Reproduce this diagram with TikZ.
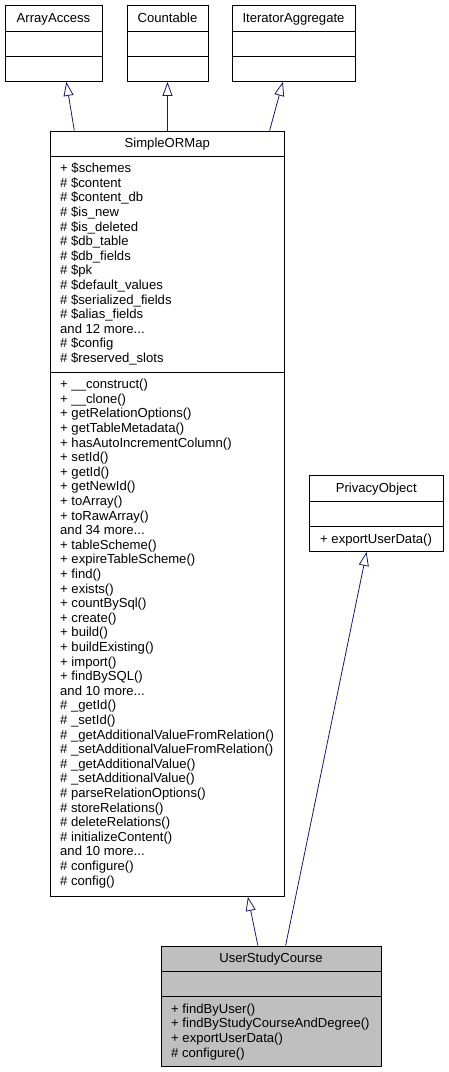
\documentclass[tikz,border=0pt]{standalone}
\usepackage{fontspec}
\setmainfont{Liberation Sans}
\usetikzlibrary{arrows.meta,calc}

\definecolor{edgeblue}{RGB}{25,25,112}
\definecolor{classgray}{RGB}{191,191,191}

\tikzset{
  classbox/.style={draw=black, line width=0.8pt, fill=white, inner sep=0pt},
  sepline/.style={draw=black, line width=0.8pt},
  member/.style={anchor=west, inner sep=0pt, text height=9.4pt, text depth=0pt, font=\fontsize{13.1}{14.6}\selectfont},
  classname/.style={member, anchor=center},
  inherit/.style={draw=edgeblue, line width=0.8pt, -{Triangle[open,length=14pt,width=10pt]}},
}

\begin{document}
\begin{tikzpicture}[x=1pt,y=-1pt]
\useasboundingbox (0,0) rectangle (449,1072);

% interfaces on top
\node[classbox, minimum width=97pt, minimum height=76pt] (arrayaccess) at (53.5,43.5) {};
\node[classbox, minimum width=81pt, minimum height=76pt] (countable) at (167.5,43.5) {};
\node[classbox, minimum width=123pt, minimum height=76pt] (iteratoraggregate) at (293.5,43.5) {};
\draw[sepline] (5,31.5) -- (102,31.5);
\draw[sepline] (5,56.5) -- (102,56.5);
\draw[sepline] (127,31.5) -- (208,31.5);
\draw[sepline] (127,56.5) -- (208,56.5);
\draw[sepline] (232,31.5) -- (355,31.5);
\draw[sepline] (232,56.5) -- (355,56.5);
\node[classname] (arrayaccessname) at (53.5,18) {ArrayAccess};
\node[classname] (countablename) at (167.5,18) {Countable};
\node[classname] (iteratoraggregatename) at (293.5,18) {IteratorAggregate};

% SimpleORMap
\node[classbox, minimum width=234.5pt, minimum height=765.5pt] (simpleormap) at (167.25,513.75) {};
\draw[sepline] (50,156) -- (284.5,156);
\draw[sepline] (50,372) -- (284.5,372);
\node[classname] (simpleormapname) at (167.25,143) {SimpleORMap};

\node[member] (attr1) at (60,168) {+ \$schemes};
\node[member] (attr2) at (60,182.6) {\# \$content};
\node[member] (attr3) at (60,197.2) {\# \$content\_db};
\node[member] (attr4) at (60,211.8) {\# \$is\_new};
\node[member] (attr5) at (60,226.4) {\# \$is\_deleted};
\node[member] (attr6) at (60,241) {\# \$db\_table};
\node[member] (attr7) at (60,255.6) {\# \$db\_fields};
\node[member] (attr8) at (60,270.2) {\# \$pk};
\node[member] (attr9) at (60,284.8) {\# \$default\_values};
\node[member] (attr10) at (60,299.4) {\# \$serialized\_fields};
\node[member] (attr11) at (60,314) {\# \$alias\_fields};
\node[member] (attr12) at (60,328.6) {and 12 more...};
\node[member] (attr13) at (60,343.2) {\# \$config};
\node[member] (attr14) at (60,357.8) {\# \$reserved\_slots};

\node[member] (op1) at (60,384) {+ \_\_construct()};
\node[member] (op2) at (60,398.6) {+ \_\_clone()};
\node[member] (op3) at (60,413.2) {+ getRelationOptions()};
\node[member] (op4) at (60,427.8) {+ getTableMetadata()};
\node[member] (op5) at (60,442.4) {+ hasAutoIncrementColumn()};
\node[member] (op6) at (60,457) {+ setId()};
\node[member] (op7) at (60,471.6) {+ getId()};
\node[member] (op8) at (60,486.2) {+ getNewId()};
\node[member] (op9) at (60,500.8) {+ toArray()};
\node[member] (op10) at (60,515.4) {+ toRawArray()};
\node[member] (op11) at (60,530) {and 34 more...};
\node[member] (op12) at (60,544.6) {+ tableScheme()};
\node[member] (op13) at (60,559.2) {+ expireTableScheme()};
\node[member] (op14) at (60,573.8) {+ find()};
\node[member] (op15) at (60,588.4) {+ exists()};
\node[member] (op16) at (60,603) {+ countBySql()};
\node[member] (op17) at (60,617.6) {+ create()};
\node[member] (op18) at (60,632.2) {+ build()};
\node[member] (op19) at (60,646.8) {+ buildExisting()};
\node[member] (op20) at (60,661.4) {+ import()};
\node[member] (op21) at (60,676) {+ findBySQL()};
\node[member] (op22) at (60,690.6) {and 10 more...};
\node[member] (op23) at (60,705.2) {\# \_getId()};
\node[member] (op24) at (60,719.8) {\# \_setId()};
\node[member] (op25) at (60,734.4) {\# \_getAdditionalValueFromRelation()};
\node[member] (op26) at (60,749) {\# \_setAdditionalValueFromRelation()};
\node[member] (op27) at (60,763.6) {\# \_getAdditionalValue()};
\node[member] (op28) at (60,778.2) {\# \_setAdditionalValue()};
\node[member] (op29) at (60,792.8) {\# parseRelationOptions()};
\node[member] (op30) at (60,807.4) {\# storeRelations()};
\node[member] (op31) at (60,822) {\# deleteRelations()};
\node[member] (op32) at (60,836.6) {\# initializeContent()};
\node[member] (op33) at (60,851.2) {and 10 more...};
\node[member] (op34) at (60,865.8) {\# configure()};
\node[member] (op35) at (60,880.4) {\# config()};

% PrivacyObject
\node[classbox, minimum width=134.5pt, minimum height=76pt] (privacyobject) at (376.25,513.5) {};
\draw[sepline] (309,501.5) -- (443.5,501.5);
\draw[sepline] (309,526.5) -- (443.5,526.5);
\node[classname] (privacyobjectname) at (376.25,488) {PrivacyObject};
\node[member] (privop1) at (320,539) {+ exportUserData()};

% UserStudyCourse
\node[classbox, fill=classgray, minimum width=220pt, minimum height=120pt] (userstudycourse) at (271,1006) {};
\draw[sepline] (161,971) -- (381,971);
\draw[sepline] (161,996) -- (381,996);
\node[classname] (userstudycoursename) at (271,958) {UserStudyCourse};
\node[member] (usop1) at (171,1008.5) {+ findByUser()};
\node[member] (usop2) at (171,1023.1) {+ findByStudyCourseAndDegree()};
\node[member] (usop3) at (171,1037.7) {+ exportUserData()};
\node[member] (usop4) at (171,1052.3) {\# configure()};

% inheritance
\draw[inherit] ($(simpleormap.north west)+(24.7,0)$) -- ($(arrayaccess.south west)+(61.7,0)$);
\draw[inherit] (countable.south |- simpleormap.north) -- (countable.south);
\draw[inherit] ($(simpleormap.north west)+(220,0)$) -- ($(iteratoraggregate.south west)+(51.3,0)$);
\draw[inherit] ($(userstudycourse.north west)+(97.3,0)$) -- ($(simpleormap.south west)+(198.3,0)$);
\draw[inherit] ($(userstudycourse.north west)+(125,0)$) -- ($(privacyobject.south west)+(58,0)$);

\end{tikzpicture}
\end{document}
